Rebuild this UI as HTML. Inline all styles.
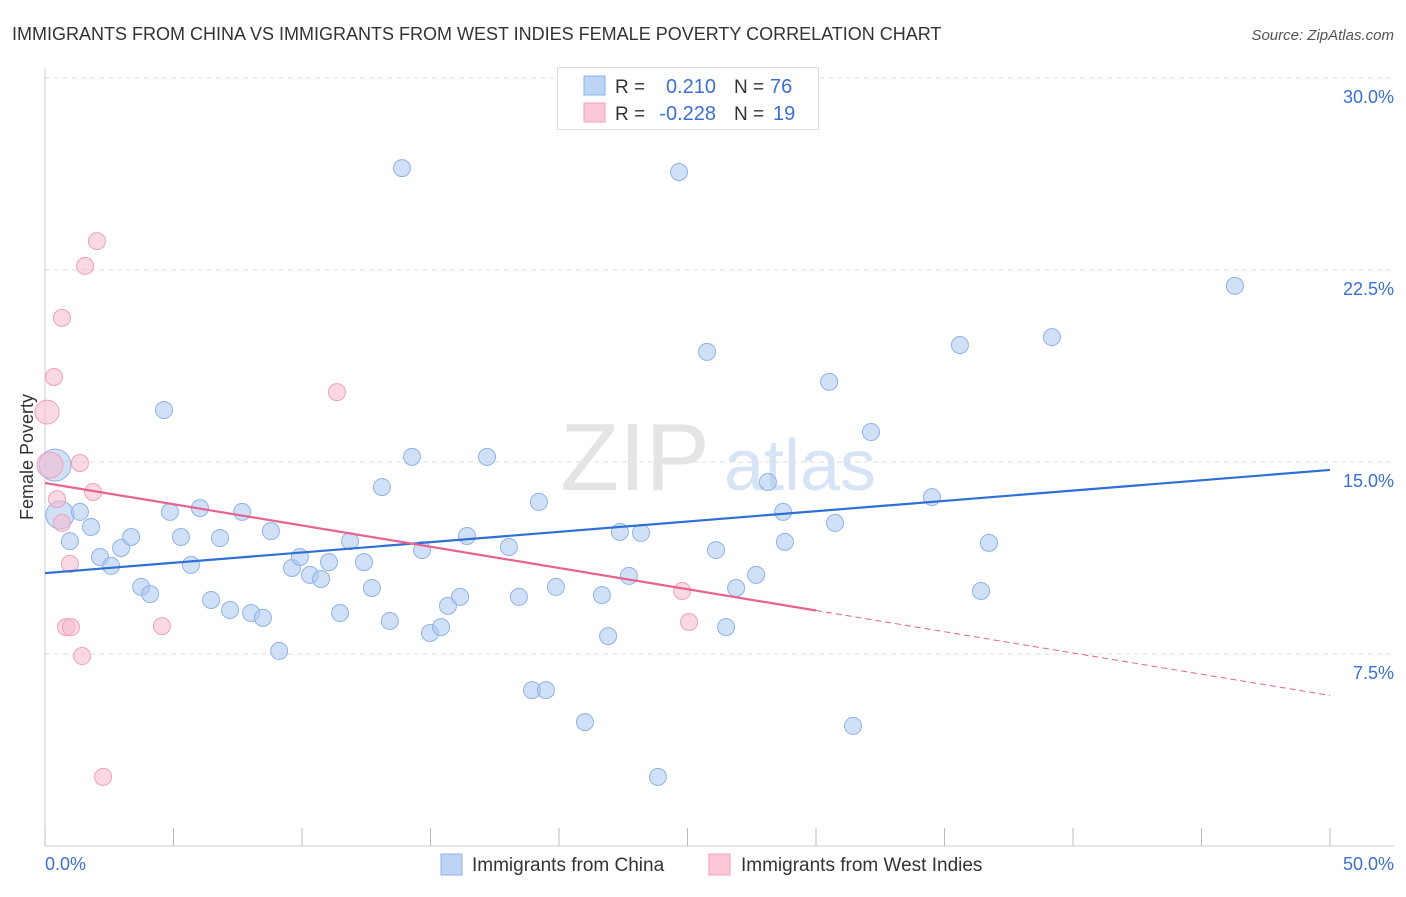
<!DOCTYPE html>
<html><head><meta charset="utf-8"><style>
body{margin:0;background:#fff;font-family:"Liberation Sans",sans-serif;}
svg text{font-family:"Liberation Sans",sans-serif;}
</style></head><body>
<svg id="chart" width="1406" height="892" viewBox="0 0 1406 892" xmlns="http://www.w3.org/2000/svg">
<text x="12" y="40" font-size="18" fill="#333">IMMIGRANTS FROM CHINA VS IMMIGRANTS FROM WEST INDIES FEMALE POVERTY CORRELATION CHART</text>
<text x="1394" y="40" font-size="15" fill="#555" font-style="italic" text-anchor="end">Source: ZipAtlas.com</text>
<g id="grid"></g>
<text x="635" y="490" font-size="96" fill="#e4e4e4" font-family="Liberation Serif" text-anchor="middle">ZIP</text>
<text x="800" y="490" font-size="72" fill="#d6e4f5" text-anchor="middle">atlas</text>
<line x1="45" y1="68" x2="45" y2="846" stroke="#ccc"/>
<line x1="45" y1="846" x2="1394" y2="846" stroke="#ccc"/>
<g id="ticks"></g>
<text x="33" y="457" font-size="18" fill="#333" text-anchor="middle" transform="rotate(-90 33 457)">Female Poverty</text>
<text x="45" y="870" font-size="18" fill="#3b6fd0">0.0%</text>
<text x="1394" y="870" font-size="18" fill="#3b6fd0" text-anchor="end">50.0%</text>
<g id="pts"></g>
<g id="lines"></g>
<g>
<rect x="557.5" y="67.5" width="261" height="62" fill="#fff" stroke="#ddd"/>
<rect x="584" y="76" width="21" height="19" fill="#bcd4f5" stroke="#8fb2e6"/>
<rect x="584" y="103" width="21" height="19" fill="#fac8d6" stroke="#f0a0b8"/>
<text x="615" y="93" font-size="19" fill="#333">R = </text><text x="716" y="93" font-size="20" fill="#3b6fd0" text-anchor="end">0.210</text>
<text x="734" y="93" font-size="19" fill="#333">N = </text><text x="770" y="93" font-size="20" fill="#3b6fd0">76</text>
<text x="615" y="120" font-size="19" fill="#333">R = </text><text x="716" y="120" font-size="20" fill="#3b6fd0" text-anchor="end">-0.228</text>
<text x="734" y="120" font-size="19" fill="#333">N = </text><text x="773" y="120" font-size="20" fill="#3b6fd0">19</text>
</g>
<g>
<rect x="441" y="854" width="21" height="21" fill="#bcd4f5" stroke="#8fb2e6"/>
<text x="472" y="871" font-size="19" fill="#333">Immigrants from China</text>
<rect x="709" y="854" width="21" height="21" fill="#fac8d6" stroke="#f0a0b8"/>
<text x="741" y="871" font-size="19" fill="#333">Immigrants from West Indies</text>
</g>
</svg>
<script>
const yTicks=[7.5,15,22.5,30];
const yTickLabels=["7.5%","15.0%","22.5%","30.0%"];
const xTicks=[0,5,10,15,20,25,30,35,40,45,50];
const chinaX=[0.39,0.58,0.97,1.36,1.79,2.14,2.57,2.96,3.35,3.74,4.09,4.63,4.86,5.29,5.68,6.03,6.46,6.81,7.20,7.67,8.02,8.48,8.79,9.11,9.61,9.92,10.31,10.74,11.05,11.48,11.87,12.41,12.72,13.11,13.42,13.89,14.28,14.67,14.98,15.41,15.68,16.15,16.42,17.20,18.05,18.44,18.95,19.22,19.49,19.88,21.01,21.67,21.91,22.37,22.72,23.19,23.85,24.67,25.76,26.11,26.50,26.89,27.67,28.13,28.72,28.79,30.51,30.74,31.44,32.14,34.51,35.60,36.42,36.73,39.18,46.30];
const chinaY=[14.88,12.93,11.91,13.05,12.46,11.29,10.94,11.64,12.07,10.12,9.84,17.03,13.05,12.07,10.98,13.20,9.61,12.03,9.22,13.05,9.10,8.91,12.30,7.62,10.86,11.29,10.59,10.43,11.09,9.10,11.91,11.09,10.08,14.02,8.79,26.48,15.20,11.56,8.32,8.55,9.38,9.73,12.11,15.20,11.68,9.73,6.09,13.44,6.09,10.12,4.84,9.80,8.20,12.27,10.55,12.23,2.70,26.33,19.30,11.56,8.55,10.08,10.59,14.22,13.05,11.88,18.13,12.62,4.69,16.17,13.63,19.57,9.96,11.84,19.88,21.88];
const chinaSize=[16,14];
const wiX=[0.19,0.08,0.35,0.47,0.66,0.66,0.82,0.97,1.01,1.36,1.44,1.56,1.87,2.02,2.26,4.55,11.36,24.79,25.06];
const wiY=[14.88,16.95,18.32,13.55,20.63,12.62,8.55,11.02,8.55,14.96,7.42,22.66,13.83,23.63,2.70,8.59,17.73,9.96,8.75];
const wiSize=[13,12];
const chinaLine=[10.66,0.0806];
const wiLine=[14.18,-0.166];
const wiSolidEnd=30;
const NS="http://www.w3.org/2000/svg";
const X=v=>45+v*25.7, Y=v=>846-v*25.6;
function mk(tag,attrs,parent){const e=document.createElementNS(NS,tag);for(const k in attrs)e.setAttribute(k,attrs[k]);parent.appendChild(e);return e;}
const grid=document.getElementById('grid');
yTicks.forEach((t,i)=>{
  const l=mk('line',{x1:45,x2:1394,y1:Y(t),y2:Y(t),stroke:'#ddd','stroke-dasharray':'5,4'},grid);
  
  
  const tx=mk('text',{x:1394,y:Y(t)+25,'font-size':18,fill:'#3b6fd0','text-anchor':'end'},grid);
  tx.textContent=yTickLabels[i];
  
  
});
const ticks=document.getElementById('ticks');
xTicks.forEach(t=>{
  const l=mk('line',{x1:X(t),x2:X(t),y1:828,y2:846,stroke:'#bbb'},ticks);
  
  
});
const pts=document.getElementById('pts');
chinaX.forEach((x,i)=>{
  const c=mk('circle',{cx:X(x),cy:Y(chinaY[i]),r:chinaSize[i]||8.5,fill:'rgba(170,200,240,0.55)',stroke:'#8fb2e6','stroke-width':1},pts);
  
  
});
wiX.forEach((x,i)=>{
  const c=mk('circle',{cx:X(x),cy:Y(wiY[i]),r:wiSize[i]||8.5,fill:'rgba(248,185,205,0.55)',stroke:'#f0a0b8','stroke-width':1},pts);
  
  
});
const lines=document.getElementById('lines');
const a=mk('line',{x1:X(0),y1:Y(chinaLine[0]),x2:X(50),y2:Y(chinaLine[0]+50*chinaLine[1]),stroke:'#2f6fd6','stroke-width':2.2},lines);


const b=mk('line',{x1:X(0),y1:Y(wiLine[0]),x2:X(wiSolidEnd),y2:Y(wiLine[0]+wiSolidEnd*wiLine[1]),stroke:'#e8638f','stroke-width':2.2},lines);


const c=mk('line',{x1:X(wiSolidEnd),y1:Y(wiLine[0]+wiSolidEnd*wiLine[1]),x2:X(50),y2:Y(wiLine[0]+50*wiLine[1]),stroke:'#e8638f','stroke-width':1,'stroke-dasharray':'6,4'},lines);


</script>
</body></html>
